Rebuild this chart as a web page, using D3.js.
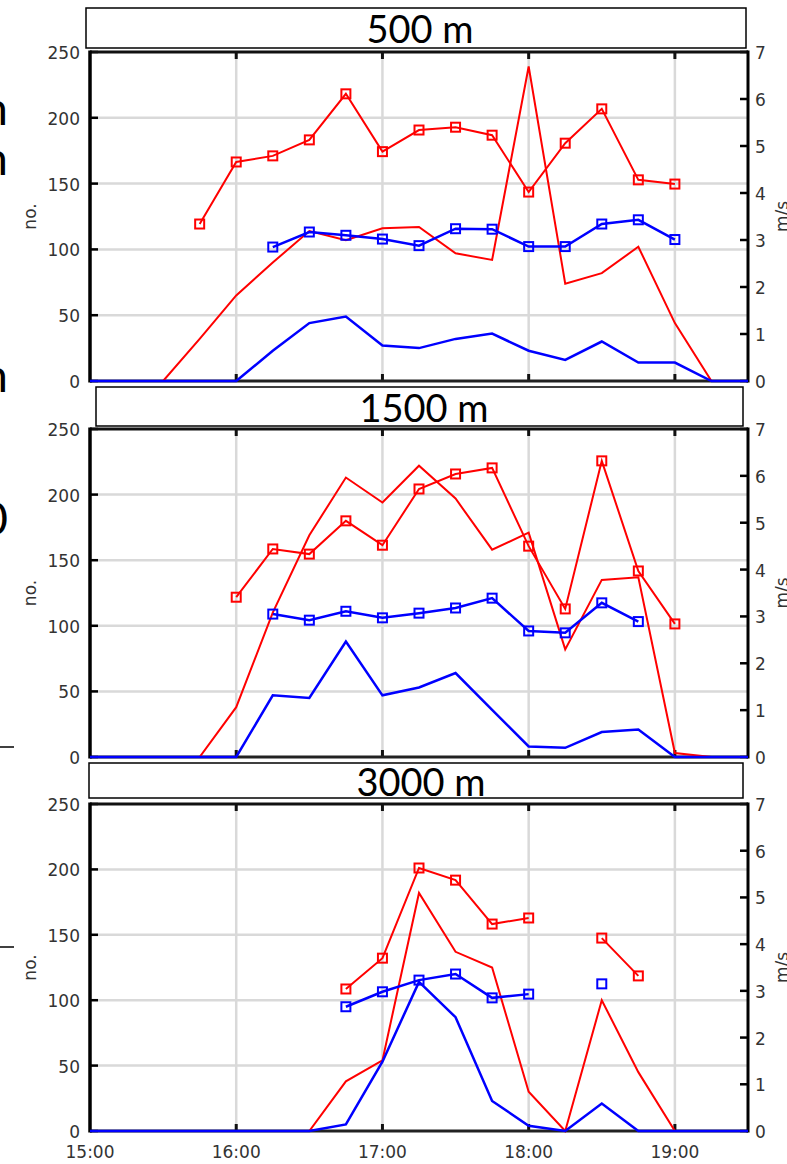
<!DOCTYPE html>
<html>
<head>
<meta charset="utf-8">
<script src="https://cdn.jsdelivr.net/npm/d3@7"></script>
<style>
  body { margin: 0; background: #fff; }
  svg { display: block; }
</style>
</head>
<body>
<div id="chart"></div>
<script>
// time axis, every 15 min from 15:00 to 19:30
var times = ["15:00","15:15","15:30","15:45","16:00","16:15","16:30","16:45","17:00",
             "17:15","17:30","17:45","18:00","18:15","18:30","18:45","19:00","19:15","19:30"];
var xTickLabels = ["15:00","16:00","17:00","18:00","19:00"];
var leftTicks = [0, 50, 100, 150, 200, 250];
var rightTicks = [0, 1, 2, 3, 4, 5, 6, 7];
var panelTitles = ["500 m", "1500 m", "3000 m"];

// 500 m
var red500 = [0,0,0,32,65,90,114,107,116,117,97,92,239,74,82,102,44,0,0];
var blue500 = [0,0,0,0,0,23,44,49,27,25,32,36,23,16,30,14,14,0,0];
var redSpd500 = [null,null,null,3.34,4.66,4.79,5.13,6.11,4.88,5.34,5.40,5.23,4.02,5.06,5.79,4.28,4.19,null,null];
var blueSpd500 = [null,null,null,null,null,2.85,3.17,3.10,3.02,2.88,3.24,3.23,2.86,2.86,3.34,3.43,3.01,null,null];

// 1500 m
var red1500 = [0,0,0,0,38,110,169,213,194,222,197,158,171,82,135,137,3,0,0];
var blue1500 = [0,0,0,0,0,47,45,88,47,53,64,36,8,7,19,21,0,0,0];
var redSpd1500 = [null,null,null,null,3.41,4.44,4.33,5.04,4.52,5.72,6.04,6.17,4.50,3.16,6.32,3.97,2.84,null,null];
var blueSpd1500 = [null,null,null,null,null,3.05,2.92,3.11,2.97,3.07,3.18,3.39,2.69,2.65,3.29,2.89,null,null,null];

// 3000 m
var red3000 = [0,0,0,0,0,0,0,38,54,182,137,125,30,0,100,45,0,0,0];
var blue3000 = [0,0,0,0,0,0,0,5,53,114,87,23,4,0,21,0,0,0,0];
var redSpd3000 = [null,null,null,null,null,null,null,3.04,3.70,5.63,5.37,4.43,4.56,null,4.13,3.32,null,null,null];
var blueSpd3000 = [null,null,null,null,null,null,null,2.66,2.98,3.23,3.36,2.85,2.93,null,3.15,null,null,null,null];

var W = 787, H = 1164;
var parseT = d3.timeParse("%H:%M");
var tickFont = "DejaVu Sans, sans-serif";
var titleFont = "Lato, 'Open Sans', sans-serif";

var svg = d3.select("#chart").append("svg").attr("width", W).attr("height", H);

var x = d3.scaleTime()
    .domain([parseT("15:00"), parseT("19:30")])
    .range([90, 748]);

// panel layout
var panels = [
  {title: panelTitles[0], top: 52, bottom: 381, box: [86, 8, 746, 48], tx: 420, ty: 43,
   red: red500, blue: blue500, redSpd: redSpd500, blueSpd: blueSpd500},
  {title: panelTitles[1], top: 429, bottom: 757, box: [96, 387, 743, 426], tx: 424, ty: 422,
   red: red1500, blue: blue1500, redSpd: redSpd1500, blueSpd: blueSpd1500},
  {title: panelTitles[2], top: 804, bottom: 1131, box: [89, 763, 743, 798], tx: 421, ty: 796,
   red: red3000, blue: blue3000, redSpd: redSpd3000, blueSpd: blueSpd3000}
];

function drawPanel(p, isLast) {
  var yL = d3.scaleLinear().domain([0, 250]).range([p.bottom, p.top]);
  var yR = d3.scaleLinear().domain([0, 7]).range([p.bottom, p.top]);
  var g = svg.append("g");
  var x0 = x.range()[0], x1 = x.range()[1];
  var hourTicks = xTickLabels.map(parseT);

  // grid
  g.selectAll(".hg").data(leftTicks.slice(1, -1)).enter().append("line")
    .attr("x1", x0).attr("x2", x1)
    .attr("y1", function(d) { return yL(d); }).attr("y2", function(d) { return yL(d); })
    .attr("stroke", "#d9d9d9").attr("stroke-width", 2.5);
  g.selectAll(".vg").data(hourTicks.slice(1)).enter().append("line")
    .attr("x1", function(d) { return x(d); }).attr("x2", function(d) { return x(d); })
    .attr("y1", p.top).attr("y2", p.bottom)
    .attr("stroke", "#d9d9d9").attr("stroke-width", 2.5);

  // ticks (inward)
  g.selectAll(".lt").data(leftTicks).enter().append("line")
    .attr("x1", x0).attr("x2", x0 + 8)
    .attr("y1", function(d) { return yL(d); }).attr("y2", function(d) { return yL(d); })
    .attr("stroke", "#000").attr("stroke-width", 2.5);
  g.selectAll(".rt").data(rightTicks).enter().append("line")
    .attr("x1", x1 - 8).attr("x2", x1)
    .attr("y1", function(d) { return yR(d); }).attr("y2", function(d) { return yR(d); })
    .attr("stroke", "#000").attr("stroke-width", 2.5);
  g.selectAll(".tt").data(hourTicks.slice(1)).enter().append("line")
    .attr("x1", function(d) { return x(d); }).attr("x2", function(d) { return x(d); })
    .attr("y1", p.top).attr("y2", p.top + 7)
    .attr("stroke", "#111").attr("stroke-width", 3);
  g.selectAll(".bt").data(hourTicks.slice(1)).enter().append("line")
    .attr("x1", function(d) { return x(d); }).attr("x2", function(d) { return x(d); })
    .attr("y1", p.bottom).attr("y2", p.bottom - 7)
    .attr("stroke", "#111").attr("stroke-width", 3);

  // frame
  g.append("line").attr("x1", x0).attr("x2", x1).attr("y1", p.top).attr("y2", p.top)
    .attr("stroke", "#111").attr("stroke-width", 3);
  g.append("line").attr("x1", x0).attr("x2", x1).attr("y1", p.bottom).attr("y2", p.bottom)
    .attr("stroke", "#222").attr("stroke-width", 3);
  g.append("line").attr("x1", x0).attr("x2", x0).attr("y1", p.top - 1.5).attr("y2", p.bottom + 1.5)
    .attr("stroke", "#000").attr("stroke-width", 3.5);
  g.append("line").attr("x1", x1).attr("x2", x1).attr("y1", p.top - 1.5).attr("y2", p.bottom + 1.5)
    .attr("stroke", "#000").attr("stroke-width", 3);

  // series
  var pts = function(arr) {
    return arr.map(function(v, i) { return {t: parseT(times[i]), v: v}; });
  };
  var lineL = d3.line().defined(function(d) { return d.v !== null; })
    .x(function(d) { return x(d.t); }).y(function(d) { return yL(d.v); });
  var lineR = d3.line().defined(function(d) { return d.v !== null; })
    .x(function(d) { return x(d.t); }).y(function(d) { return yR(d.v); });

  g.append("path").datum(pts(p.red)).attr("d", lineL)
    .attr("fill", "none").attr("stroke", "#ff0000").attr("stroke-width", 2);
  g.append("path").datum(pts(p.redSpd)).attr("d", lineR)
    .attr("fill", "none").attr("stroke", "#ff0000").attr("stroke-width", 2);
  g.append("path").datum(pts(p.blueSpd)).attr("d", lineR)
    .attr("fill", "none").attr("stroke", "#0000ff").attr("stroke-width", 2.5);
  g.append("path").datum(pts(p.blue)).attr("d", lineL)
    .attr("fill", "none").attr("stroke", "#0000ff").attr("stroke-width", 2.5);

  var sq = 9;
  [[p.redSpd, "#ff0000"], [p.blueSpd, "#0000ff"]].forEach(function(s) {
    g.selectAll(null).data(pts(s[0]).filter(function(d) { return d.v !== null; }))
      .enter().append("rect")
      .attr("x", function(d) { return x(d.t) - sq / 2; })
      .attr("y", function(d) { return yR(d.v) - sq / 2; })
      .attr("width", sq).attr("height", sq)
      .attr("fill", "none").attr("stroke", s[1]).attr("stroke-width", 2);
  });

  // tick labels
  g.selectAll(".ll").data(leftTicks).enter().append("text")
    .attr("x", 80).attr("y", function(d) { return yL(d) + 7; })
    .attr("text-anchor", "end").attr("font-family", tickFont).attr("font-size", 17)
    .attr("fill", "#333").text(function(d) { return d; });
  g.selectAll(".rl").data(rightTicks).enter().append("text")
    .attr("x", 755).attr("y", function(d) { return yR(d) + 7; })
    .attr("font-family", tickFont).attr("font-size", 17)
    .attr("fill", "#333").text(function(d) { return d; });

  // axis titles
  var cy = (p.top + p.bottom) / 2;
  g.append("text").attr("transform", "translate(36," + cy + ") rotate(-90)")
    .attr("text-anchor", "middle").attr("font-family", tickFont).attr("font-size", 17)
    .attr("fill", "#333").text("no.");
  g.append("text").attr("transform", "translate(788," + cy + ") rotate(-90)")
    .attr("text-anchor", "middle").attr("font-family", tickFont).attr("font-size", 17)
    .attr("fill", "#333").text("m/s");

  if (isLast) {
    g.selectAll(".xl").data(xTickLabels).enter().append("text")
      .attr("x", function(d) { return x(parseT(d)); }).attr("y", p.bottom + 27)
      .attr("text-anchor", "middle").attr("font-family", tickFont).attr("font-size", 17)
      .attr("fill", "#333").text(function(d) { return d; });
  }

  // title box
  var b = p.box;
  svg.append("rect").attr("x", b[0]).attr("y", b[1])
    .attr("width", b[2] - b[0]).attr("height", b[3] - b[1])
    .attr("fill", "#fff").attr("stroke", "#000").attr("stroke-width", 1.5);
  svg.append("text").attr("x", p.tx).attr("y", p.ty)
    .attr("text-anchor", "middle").attr("font-family", titleFont).attr("font-size", 38)
    .attr("fill", "#000").text(p.title);
}

panels.forEach(function(p, i) { drawPanel(p, i === panels.length - 1); });

// bits of slide text cut off at the left edge
var edgeGlyphs = [["n", 125], ["n", 175], ["n", 392], ["0", 535]];
svg.selectAll(".edge").data(edgeGlyphs).enter().append("text")
  .attr("x", 8).attr("y", function(d) { return d[1]; })
  .attr("text-anchor", "end").attr("font-family", titleFont).attr("font-size", 46)
  .attr("fill", "#000").text(function(d) { return d[0]; });
[747, 947].forEach(function(yy) {
  svg.append("line").attr("x1", 0).attr("x2", 14).attr("y1", yy).attr("y2", yy)
    .attr("stroke", "#000").attr("stroke-width", 1.5);
});
</script>
</body>
</html>
